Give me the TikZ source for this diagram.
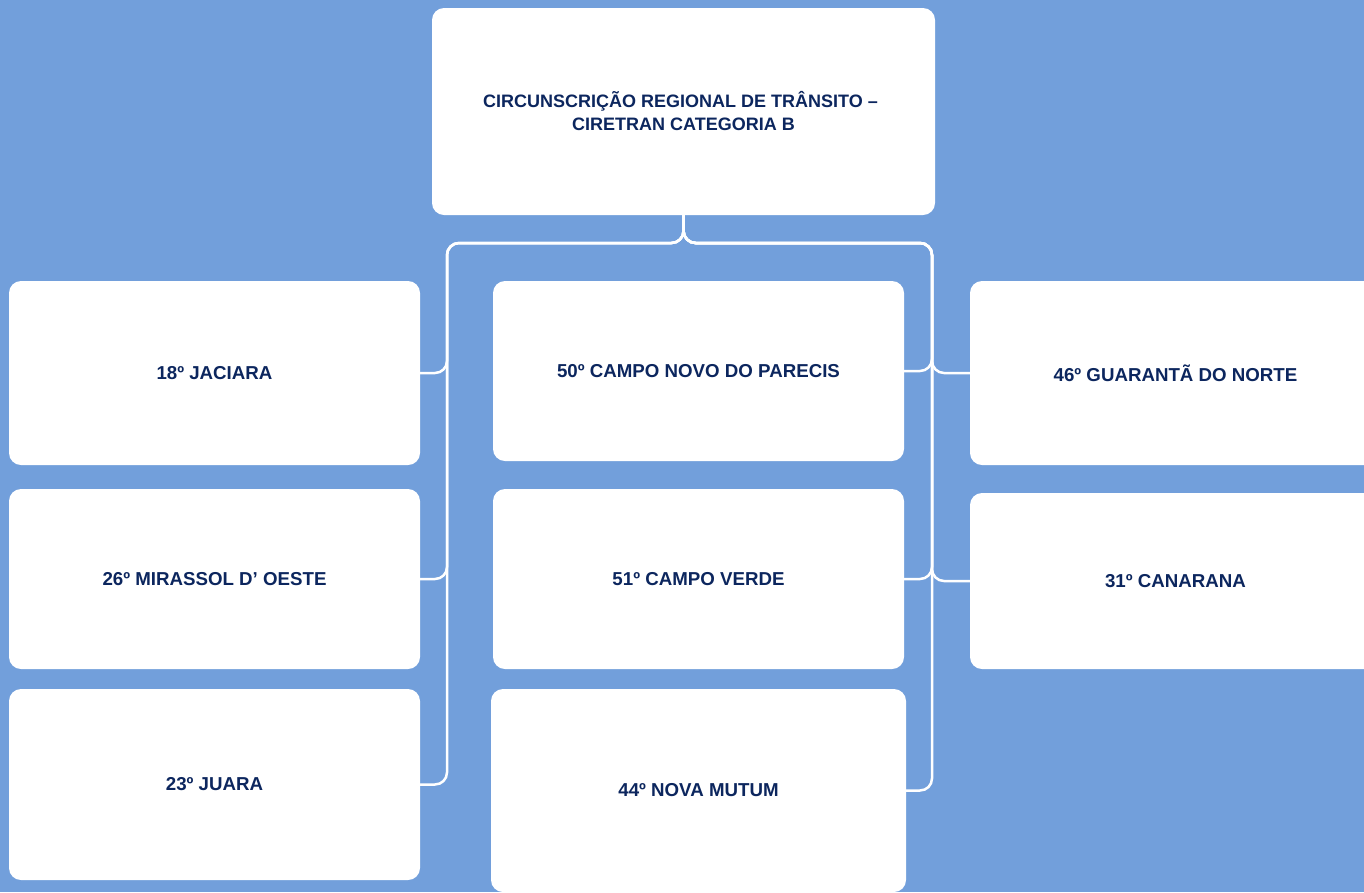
\documentclass[tikz,border=0pt]{standalone}
\usepackage{fontspec}
\setmainfont{Liberation Sans}
\definecolor{bgblue}{RGB}{114,159,219}
\definecolor{navy}{RGB}{12,38,94}
\begin{document}
\begin{tikzpicture}[x=1pt,y=-1pt,
    box/.style={fill=white, rounded corners=12pt, minimum width=411pt, inner sep=0pt, align=center, text=navy, font=\fontsize{18.7}{23}\selectfont\bfseries},
    link/.style={draw=white, line width=2.5pt, rounded corners=12pt}]
    \fill[bgblue] (0,0) rectangle (1364,892);
    \useasboundingbox (0,0) rectangle (1364,892);

    \node[box, minimum width=503pt, minimum height=207pt, font=\fontsize{18}{23}\selectfont\bfseries] (crt) at (683.5,111.5) {CIRCUNSCRIÇÃO REGIONAL DE TRÂNSITO –\hspace*{6pt}\\CIRETRAN CATEGORIA B};

    \node[box, minimum height=184pt] (jac) at (214.5,373) {18º JACIARA};
    \node[box, minimum height=180pt] (mir) at (214.5,579) {26º MIRASSOL D’ OESTE};
    \node[box, minimum height=191pt] (jua) at (214.5,784.5) {23º JUARA};

    \node[box, minimum height=180pt] (cnp) at (698.5,371) {50º CAMPO NOVO DO PARECIS};
    \node[box, minimum height=180pt] (cve) at (698.5,579) {51º CAMPO VERDE};
    \node[box, minimum width=415pt, minimum height=203pt] (nmu) at (698.5,790.5) {44º NOVA MUTUM};

    \node[box, minimum height=184pt] (gua) at (1175.5,373) {46º GUARANTÃ DO NORTE};
    \node[box, minimum height=176pt] (can) at (1175.5,581) {31º CANARANA};

    \coordinate (busL) at (447,243);
    \coordinate (busR) at (932,243);

    \draw[link] (crt.south) |- (busL) |- (jac.east);
    \draw[link] (crt.south) |- (busL) |- (mir.east);
    \draw[link] (crt.south) |- (busL) |- (jua.east);
    \draw[link] (crt.south) |- (busR) |- (cnp.east);
    \draw[link] (crt.south) |- (busR) |- (cve.east);
    \draw[link] (crt.south) |- (busR) |- (nmu.east);
    \draw[link] (crt.south) |- (busR) |- (gua.west);
    \draw[link] (crt.south) |- (busR) |- (can.west);
\end{tikzpicture}
\end{document}
